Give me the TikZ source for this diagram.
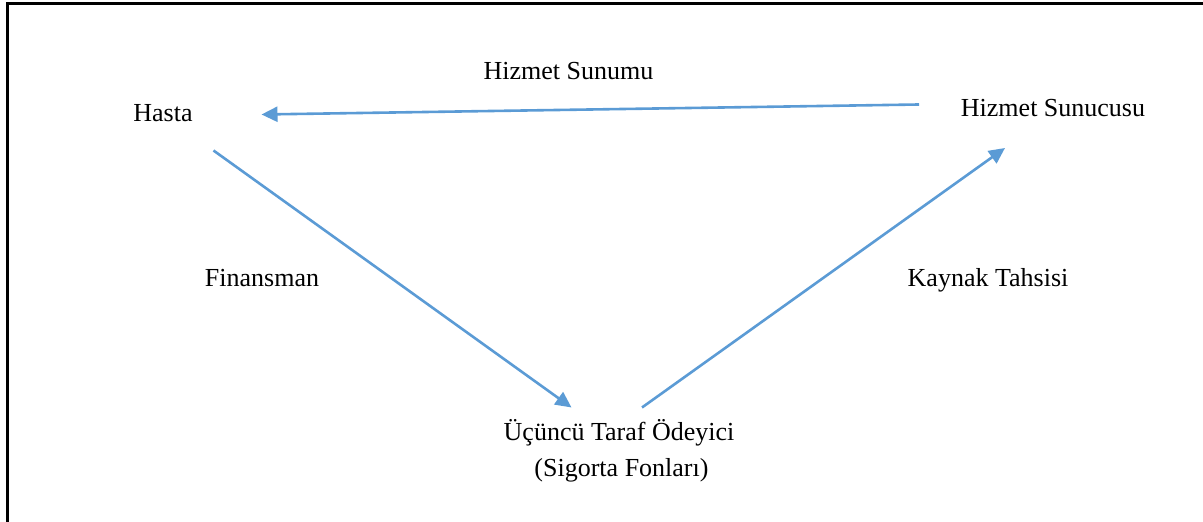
\documentclass[tikz,border=0pt]{standalone}
\usepackage{fontspec}
\setmainfont{Liberation Serif}
\usepackage{tikz}
\usetikzlibrary{arrows.meta}
\definecolor{flowblue}{HTML}{5B9BD5}

\begin{document}
\begin{tikzpicture}[x=0.5pt, y=-0.5pt, font=\fontsize{13}{18.3}\selectfont]
        % Coordinates
        \coordinate (A) at (7.00, 4.00);
        \coordinate (B) at (1203.00, 4.00);
        \coordinate (C) at (7.00, 522.00);
        \coordinate (D) at (919.00, 104.50);
        \coordinate (E) at (261.50, 114.50);
        \coordinate (F) at (213.50, 150.50);
        \coordinate (G) at (571.50, 407.50);
        \coordinate (H) at (642.00, 407.50);
        \coordinate (I) at (1005.00, 148.00);
        \coordinate (J) at (163.00, 122.00);
        \coordinate (K) at (568.50, 80.00);
        \coordinate (L) at (1053.00, 117.00);
        \coordinate (M) at (262.00, 286.50);
        \coordinate (N) at (988.00, 286.50);
        \coordinate (O) at (619.00, 440.50);
        \coordinate (P) at (621.50, 477.00);

        % Drawing
        \useasboundingbox (0,0) rectangle (1203,522);
        \draw[line width=1.5pt] (C) -- (A) -- (B);
        \draw[flowblue, line width=1.3pt, -{Triangle[length=8pt, width=7.5pt]}] (D) -- (E);
        \draw[flowblue, line width=1.3pt, -{Triangle[length=8pt, width=7.5pt]}] (F) -- (G);
        \draw[flowblue, line width=1.3pt, -{Triangle[length=8pt, width=7.5pt]}] (H) -- (I);
        \node[anchor=base] (hasta) at (J) {Hasta};
        \node[anchor=base] (sunum) at (K) {Hizmet Sunumu};
        \node[anchor=base] (sunucu) at (L) {Hizmet Sunucusu};
        \node[anchor=base] (finans) at (M) {Finansman};
        \node[anchor=base] (tahsis) at (N) {Kaynak Tahsisi};
        \node[anchor=base] (odeyici) at (O) {Üçüncü Taraf Ödeyici};
        \node[anchor=base] (fonlar) at (P) {(Sigorta Fonları)};
        \end{tikzpicture}
\end{document}
